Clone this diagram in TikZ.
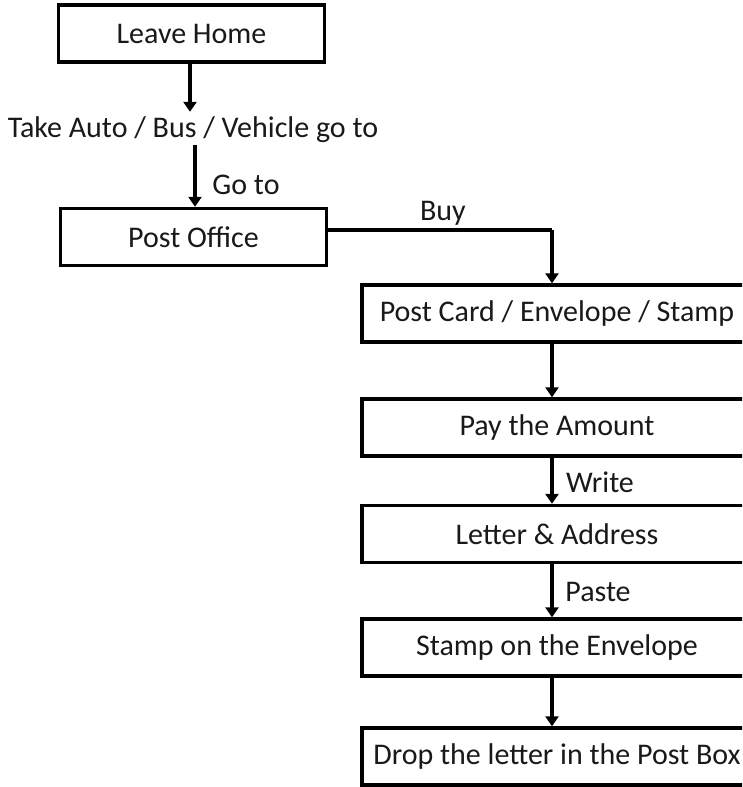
\documentclass[tikz,border=0pt]{standalone}
\usepackage{fontspec}
\setmainfont{Carlito}
\usetikzlibrary{arrows.meta}
\begin{document}
\begin{tikzpicture}[x=1pt,y=-1pt,
  every node/.style={font=\fontsize{30}{36}\selectfont, text=black!90},
  stepbox/.style={draw, line width=3.4pt, inner sep=0pt, minimum height=57pt},
  leftbox/.style={stepbox, minimum width=266pt},
  rightbox/.style={stepbox, minimum width=390pt},
  lbl/.style={inner sep=1pt},
  arr/.style={line width=3.2pt, -{Triangle[width=13pt,length=10pt]}},
  link/.style={line width=3.2pt}]
\useasboundingbox (0,0) rectangle (742,787);
\clip (0,0) rectangle (742,787);

% left column
\node[leftbox] (home) at (191.5,33.5) {Leave Home};
\node[lbl] (take) at (193,130) {Take Auto / Bus / Vehicle go to};
\node[leftbox] (office) at (193.5,237) {Post Office};

% right column
\node[rightbox] (card)   at (557,313.5) {Post Card / Envelope / Stamp};
\node[rightbox] (pay)    at (557,427.5) {Pay the Amount};
\node[rightbox] (letter) at (557,534)   {Letter \& Address};
\node[rightbox] (stamp)  at (557,647.5) {Stamp on the Envelope};
\node[rightbox] (drop)   at (557,756.5) {Drop the letter in the Post Box};

% edge labels
\node[lbl] (goto)  at (246,185) {Go to};
\node[lbl] (buy)   at (443,213) {Buy};
\node[lbl] (write) at (600,482) {Write};
\node[lbl] (paste) at (598,592) {Paste};

% connectors
\coordinate (c1) at (190,0);
\coordinate (c2) at (195,0);
\coordinate (spine) at (552,0);
\coordinate (bend) at (552,230);

\draw[arr] (home.south -| c1) -- ([yshift=4pt]take.north -| c1);
\draw[arr] ([yshift=-1pt]take.south -| c2) -- (office.north -| c2);
\draw[link] (office.east |- bend) -- (bend);
\draw[arr] (bend) -- (card.north -| spine);
\draw[arr] (card.south -| spine) -- (pay.north -| spine);
\draw[arr] (pay.south -| spine) -- (letter.north -| spine);
\draw[arr] (letter.south -| spine) -- (stamp.north -| spine);
\draw[arr] (stamp.south -| spine) -- (drop.north -| spine);
\end{tikzpicture}
\end{document}
